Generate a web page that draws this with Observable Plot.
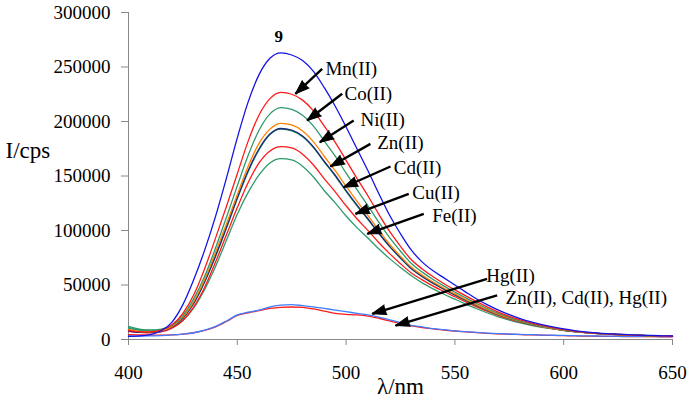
<!DOCTYPE html>
<html><head><meta charset="utf-8">
<script src="https://cdn.jsdelivr.net/npm/d3@7"></script>
<script src="https://cdn.jsdelivr.net/npm/@observablehq/plot@0.6"></script>
<style>
html,body{margin:0;padding:0;background:#fff;}
svg, svg text { font-family: "Liberation Serif", "Times New Roman", serif !important; }
</style>
</head><body><div id="chart"></div>
<script>
const wavelengths = [400,405,410,415,420,425,430,435,440,445,450,455,460,465,470,475,480,485,490,495,500,505,510,515,520,525,530,535,540,545,550,555,560,565,570,575,580,585,590,595,600,605,610,615,620,625,630,635,640,645,650];

const series9 = [3000,3300,4500,8000,16000,32000,55000,82000,113000,148000,185000,218000,243000,258000,263000,261000,256000,246000,231000,214000,195000,175000,155000,134000,114000,97000,82000,71000,63000,56500,50000,43500,37200,31800,27000,22800,19200,16200,13700,11500,9700,8200,7000,6100,5400,4900,4400,4000,3700,3400,3200];
const seriesMn = [8500,7000,7000,8500,13500,24000,41000,65000,93000,122000,152000,182000,206000,221000,226700,225000,219600,209800,195700,180800,164400,147900,131900,115000,99100,85500,73100,64700,57500,51200,45500,40000,34700,29700,25200,21300,18000,15200,12900,10900,9200,7600,6500,5700,5100,4600,4200,3800,3500,3300,3100];
const seriesCo = [11000,9000,8500,9500,13000,22000,37500,58000,84000,112000,141000,169000,192000,207000,212800,211100,205800,195800,182000,168200,152700,137500,122900,107700,93400,81000,69700,61800,55000,49000,43500,38200,33000,28200,23900,20200,17100,14500,12300,10400,8800,7400,6400,5700,5100,4600,4200,3800,3500,3300,3100];
const seriesNi = [9000,7500,7000,8000,12000,20500,35000,55000,80000,106000,133000,159000,180000,193000,198300,196800,191200,181300,167900,154900,140600,126700,113800,100100,87400,76300,66200,59000,52700,47000,41800,36700,31800,27200,23100,19600,16600,14100,11900,10100,8600,7300,6400,5600,5000,4500,4200,3800,3500,3300,3100];
const seriesZn = [8000,6500,6500,7500,11500,19500,33000,53000,77000,103000,130000,155000,175000,188500,193600,192100,186600,176600,163300,150700,136500,123200,110800,97700,85500,74900,65000,57900,51700,46200,41000,36000,31200,26700,22700,19300,16400,13900,11800,10000,8500,7300,6400,5600,5000,4500,4100,3800,3500,3300,3100];
const seriesCd = [10500,8500,7500,8500,12000,20000,34000,53000,76000,102000,129000,154000,174000,188000,193000,191500,186000,176000,162800,150000,136000,122700,110300,97300,85200,74600,64800,57700,51500,46000,40800,35800,31000,26500,22500,19100,16200,13700,11600,9900,8400,7200,6300,5500,4900,4400,4000,3700,3400,3200,3000];
const seriesCu = [7500,6500,6000,7000,10500,17500,30000,48000,71000,96000,121000,144000,162000,173000,177000,175700,170000,160100,147400,135500,122700,110800,100100,89000,78800,69500,61000,54700,49000,44000,39200,34500,30000,25800,22000,18800,16000,13700,11700,10000,8500,7300,6300,5600,5000,4500,4100,3700,3400,3300,3100];
const seriesFe = [12000,9500,8500,8500,11000,17500,29000,46000,67000,91000,115000,135000,151000,162000,166000,164700,159000,149100,136500,125400,113300,102600,93200,83200,74200,66100,58500,52000,46500,41500,37000,32500,28200,24300,20800,17800,15200,13000,11200,9700,8400,7200,6300,5500,4900,4500,4100,3700,3400,3200,3000];
const seriesHg = [2800,3000,3300,3600,4200,5000,6200,8500,12000,17000,22500,25000,27000,30000,31500,32000,31000,30000,28500,27000,25500,24000,22500,20500,18000,15500,13000,11500,10000,9000,8000,7200,6500,5900,5400,5000,4700,4400,4100,3900,3700,3500,3300,3200,3100,3000,2900,2800,2800,2700,2700];
const seriesZnCdHg = [4500,4200,4000,4000,4300,5000,6200,8300,11500,16500,22000,24500,26500,28500,29500,29800,29500,28000,26000,24000,23000,22500,21500,19500,17000,14500,12500,11000,9800,8700,7800,7000,6300,5700,5200,4800,4500,4200,3900,3700,3500,3300,3100,3000,2900,2800,2700,2600,2600,2500,2500];

const xTicks = [400,450,500,550,600,650];
const yTicks = [0,50000,100000,150000,200000,250000,300000];

const arrowLabels = ["Mn(II)","Co(II)","Ni(II)","Zn(II)","Cd(II)","Cu(II)","Fe(II)","Hg(II)","Zn(II), Cd(II), Hg(II)"];
const labelNm = [490.5,499.3,506.6,514.3,521.9,530.4,539.6,564.4,573.3];
const labelI = [248700,225700,201800,180300,157300,134400,113800,58700,38500];
const tailNm = [489.0,498.2,503.5,511.2,520.4,528.8,535.7,564.8,569.4];
const tailI = [248300,225400,200900,179500,158700,133700,115300,55700,40400];
const headNm = [476.7,482.1,487.9,492.8,498.9,504.3,509.7,512.0,522.7];
const headI = [225400,200900,181000,158700,139700,115300,97000,23600,12800];

const peakLabel = ["9"];
const peakNm = [469];
const peakI = [263000];

// layout
const W = 690, H = 406, ML = 128, MR = 18, MT = 12, MB = 67;
const kx = (W - ML - MR) / (650 - 400);
const ky = (H - MT - MB) / 300000;

const seriesList = [
  {name:"Zn(II), Cd(II), Hg(II)", values: seriesZnCdHg, color:"#ff1a1a"},
  {name:"Hg(II)", values: seriesHg, color:"#3f7dff"},
  {name:"Fe(II)", values: seriesFe, color:"#2f9a6c"},
  {name:"Cu(II)", values: seriesCu, color:"#ff1a1a"},
  {name:"Cd(II)", values: seriesCd, color:"#2f9a6c"},
  {name:"Zn(II)", values: seriesZn, color:"#1b2a7a"},
  {name:"Ni(II)", values: seriesNi, color:"#ff8000"},
  {name:"Co(II)", values: seriesCo, color:"#2f9a6c"},
  {name:"Mn(II)", values: seriesMn, color:"#ff1a1a"},
  {name:"9", values: series9, color:"#1414e6"}
];

const arrows = arrowLabels.map((t, i) => {
  const dx = (headNm[i] - tailNm[i]) * kx;
  const dy = -(headI[i] - tailI[i]) * ky;
  return {label: t, lx: labelNm[i], ly: labelI[i], x1: tailNm[i], y1: tailI[i], x2: headNm[i], y2: headI[i],
          angle: Math.atan2(dx, -dy) * 180 / Math.PI};
});

const font = "Liberation Serif";

const marks = [
  Plot.ruleY([0], {stroke: "#888", strokeWidth: 1}),
  Plot.ruleX([400], {stroke: "#888", strokeWidth: 1}),
  Plot.axisX({ticks: xTicks, tickSize: 6, tickPadding: 20, fontSize: 19, fontFamily: font, stroke: "#888", fill: "black", label: null, tickFormat: d => String(d)}),
  Plot.axisY({ticks: yTicks, tickSize: 7, tickPadding: 11, fontSize: 19, fontFamily: font, stroke: "#888", fill: "black", label: null, tickFormat: d => String(d)}),
  ...seriesList.map(s => Plot.line(wavelengths.map((w, i) => ({wavelength: w, intensity: s.values[i]})),
      {x: "wavelength", y: "intensity", stroke: s.color, strokeWidth: 1.3, curve: "monotone-x"})),
  Plot.link(arrows, {x1: "x1", y1: "y1", x2: "x2", y2: "y2", stroke: "black", strokeWidth: 2.4}),
  Plot.vector(arrows, {x: "x2", y: "y2", rotate: "angle", length: 14, r: 5, shape: "spike", anchor: "end", stroke: "black", fill: "black", strokeWidth: 1}),
  Plot.text(arrows, {x: "lx", y: "ly", text: "label", textAnchor: "start", lineAnchor: "middle", fontSize: 19, fontFamily: font, fill: "black"}),
  Plot.text(peakLabel, {x: peakNm, y: peakI, text: d => d, dy: -16, fontSize: 17, fontFamily: font, fontWeight: "bold", fill: "black"}),
  Plot.text(["I/cps"], {frameAnchor: "left", dx: -123, dy: -25, textAnchor: "start", fontSize: 23, fontFamily: font, fill: "black"}),
  Plot.text(["λ/nm"], {frameAnchor: "bottom", dy: 54, fontSize: 23, fontFamily: font, fill: "black"})
];

const chart = Plot.plot({
  width: W, height: H,
  marginLeft: ML, marginRight: MR, marginTop: MT, marginBottom: MB,
  x: {domain: [400, 650]},
  y: {domain: [0, 300000]},
  style: "font-family: 'Liberation Serif', serif; font-size: 19px; background: white; color: black;",
  marks
});
document.getElementById("chart").appendChild(chart);
</script>
</body></html>
